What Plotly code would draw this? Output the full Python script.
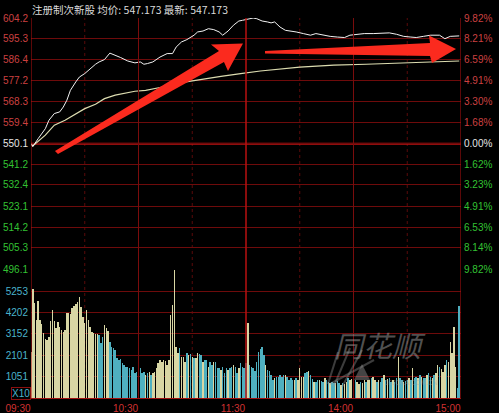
import plotly.graph_objects as go

# ------------------------------------------------------------------ data
header_text = "注册制次新股 均价: 547.173 最新: 547.173"
prev_close = 550.1
price_ticks = [604.2, 595.3, 586.4, 577.2, 568.3, 559.4, 550.1,
               541.2, 532.4, 523.1, 514.2, 505.3, 496.1]
pct_ticks = ["9.82%", "8.21%", "6.59%", "4.91%", "3.30%", "1.68%", "0.00%",
             "1.62%", "3.23%", "4.91%", "6.53%", "8.14%", "9.82%"]
vol_ticks = [5253, 4202, 3152, 2101, 1051]
time_labels = ["09:30", "10:30", "11:30", "14:00", "15:00"]
time_pos = [0, 60, 120, 180, 240]          # minutes since open
half_hour_pos = [30, 90, 150, 210]

# price (white) line: minute -> price
price_min = [0, 1, 4, 8, 10, 13, 16, 18, 20, 22, 25, 27, 30, 33, 36, 38, 41, 44,
             47, 50, 54, 58, 61, 63, 65, 68, 72, 76, 79, 81, 84, 87, 91, 93, 96,
             99, 102, 105, 107, 110, 113, 116, 118, 120, 122, 124, 126, 129, 132,
             134, 136, 139, 142, 145, 148, 152, 156, 159, 163, 167, 171, 175, 178,
             182, 186, 191, 197, 200, 204, 208, 212, 215, 219, 223, 228, 231, 234, 239]
price_val = [550.1, 548.9, 552.3, 556.6, 560.2, 563.1, 563.8, 565.9, 568.8, 573.1,
             576.7, 578.8, 580.3, 582.4, 584.3, 585.3, 586.3, 589.1, 588.2, 587.2,
             585.7, 584.9, 585.3, 584.3, 584.6, 585.3, 587.4, 588.9, 588.9, 591.7,
             593.9, 594.9, 596.8, 598.2, 598.6, 599.6, 599.2, 598.2, 596.8, 598.6,
             601.1, 602.9, 603.2, 603.5, 604.1, 604.2, 603.9, 602.9, 602.5, 602.1,
             602.5, 600.3, 598.9, 598.6, 598.2, 597.5, 596.8, 597.5, 596.8, 596.3,
             596.0, 595.8, 596.8, 597.2, 597.5, 597.5, 597.9, 597.8, 597.2, 596.3,
             596.0, 595.8, 596.3, 596.8, 596.8, 595.3, 596.3, 596.5]

# average price (pale yellow) line
avg_min = [0, 1, 8, 13, 19, 24, 30, 36, 41, 47, 52, 58, 64, 72, 83, 94, 106, 117,
           128, 150, 169, 187, 206, 224, 239]
avg_val = [550.1, 549.2, 553.8, 558.1, 560.2, 562.4, 565.2, 567.1, 569.5, 571.0,
           571.9, 572.7, 573.1, 574.3, 576.3, 577.7, 579.1, 580.3, 581.4, 583.1,
           583.9, 584.3, 584.8, 585.3, 585.7]

# per-minute volume (axis units, x10)
volume = [
    2270, 5350, 4660, 3830, 4780, 3850, 3630, 3190, 2900, 2850,
    3020, 3760, 4320, 3760, 3440, 3720, 3500, 3340, 3260, 3340,
    4190, 4160, 4110, 4430, 4530, 4600, 4700, 4980, 4480, 3990,
    3670, 4320, 3830, 3500, 3260, 3180, 3150, 3130, 3090, 2690,
    3010, 3580, 3420, 3300, 2760, 2520, 2440, 2360, 1960, 1870,
    1910, 1700, 1620, 1540, 1500, 1470, 1370, 1540, 1210, 1290,
    1700, 1450, 1210, 1290, 1130, 1250, 1290, 1130, 1210, 1290,
    1450, 1700, 1870, 1780, 1870, 1800, 1620, 1870, 4070, 4550,
    6280, 2520, 2190, 2470, 2030, 2030, 1780, 2190, 2110, 2140,
    2030, 1980, 1950, 2190, 2140, 2100, 1780, 1870, 1870, 1540,
    1780, 1620, 1780, 1780, 1490, 1450, 1370, 1540, 1210, 1450,
    1370, 1450, 1540, 1620, 1540, 1210, 1450, 1700, 1500, 1450,
    1700, 3670, 1620, 1540, 1450, 1330, 1780, 2270, 2400, 2520,
    2110, 1620, 1370, 1330, 1130, 880, 970, 1050, 1050, 1130,
    1050, 1130, 1130, 1050, 880, 970, 900, 880, 970, 880,
    1450, 1050, 1050, 1210, 1290, 1330, 1130, 930, 800, 800,
    880, 880, 830, 800, 970, 880, 800, 720, 800, 760,
    720, 830, 720, 640, 720, 670, 800, 970, 880, 920,
    970, 880, 800, 670, 800, 720, 880, 800, 880, 900,
    970, 1050, 880, 800, 880, 800, 970, 1130, 880, 920,
    970, 800, 880, 800, 970, 2030, 970, 880, 800, 850,
    880, 970, 880, 1460, 970, 1050, 970, 1130, 1050, 1000,
    970, 1130, 1210, 1050, 970, 1130, 1210, 1620, 1540, 1400,
    1290, 1620, 1870, 1780, 2760, 2190, 3500, 1540, 480, 4530,
]
# U = up minute (yellow bar), D = down minute (cyan bar)
vol_dir = ("UUUUUUUUUU" "UUUUUUUUUU" "UUUUUUUUUU" "UUUUUUUUDD"
           "DUUUDDDDDD" "DDDDDDDDDD" "DDDDUDUDUU" "UUUUUUUUUU"
           "UUUDUUUDUD" "UDUUDDUDDU" "DDUDDDUDDD" "UDDUDDUDDD"
           "DUDDDDDDDD" "DUDDDDUDDD" "DDUDDDDUDU" "UUUDDUDDUD"
           "DUDDUDDUDD" "UDDUDUUDUU" "UDUUDUUDUU" "DUUDUDDUDU"
           "DDUDDUDDUD" "DUDUDDUDUD" "DUDDUDUUDU" "UUDUUUUUDD")

# ------------------------------------------------------------------ layout constants
W, H = 499, 413
ML, MR, MT, MB = 31, 38, 18, 15
PW, PH = W - ML - MR, H - MT - MB
SPLIT = (H - MB - 269.3) / PH        # price panel bottom (paper)
VOL_TOP = 6320

RED_TXT = "#cc4040"
GRN_TXT = "#33c233"
WHT_TXT = "#e6e6e6"
CYAN_TXT = "#4ab4cc"
GRID = "#6e0b0b"
FONT = "Liberation Sans, Arial, sans-serif"
CJK = "Noto Sans CJK SC, Liberation Sans, sans-serif"


def px(x, y):
    return (x - ML) / PW, (H - MB - y) / PH


def path(points):
    s = ""
    for i, (x, y) in enumerate(points):
        a, b = px(x, y)
        s += ("M" if i == 0 else "L") + f"{a:.4f},{b:.4f} "
    return s + "Z"


def span(t, c):
    return f"<span style='color:{c}'>{t}</span>"


def side_color(i):
    return RED_TXT if i < 6 else (WHT_TXT if i == 6 else GRN_TXT)


left_text = [span(f"{v:.1f}", side_color(i)) for i, v in enumerate(price_ticks)]
right_text = [span(t, side_color(i)) for i, t in enumerate(pct_ticks)]
bar_colors = ["#d8d6a4" if d == "U" else "#4fb0c0" for d in vol_dir]

fig = go.Figure()
fig.add_trace(go.Bar(x=list(range(len(volume))), y=volume, marker_color=bar_colors,
                     marker_line_width=0, width=0.8, xaxis="x", yaxis="y2",
                     hoverinfo="skip"))
fig.add_trace(go.Scatter(x=avg_min, y=avg_val, mode="lines",
                         line=dict(color="#dcdcb0", width=1.2), xaxis="x", yaxis="y",
                         hoverinfo="skip"))
fig.add_trace(go.Scatter(x=price_min, y=price_val, mode="lines",
                         line=dict(color="#f2f2f2", width=1), xaxis="x", yaxis="y",
                         hoverinfo="skip"))
fig.add_trace(go.Scatter(x=[0], y=[prev_close], mode="markers", marker_opacity=0,
                         xaxis="x", yaxis="y3", hoverinfo="skip"))

shapes = []
# vertical time grid
for p in time_pos:
    bright = (p == 120) or p in (0, 240)
    shapes.append(dict(type="line", xref="x", yref="paper", x0=p, x1=p, y0=0, y1=1,
                       line=dict(color="#b81010" if bright else "#7a0c0c",
                                 width=1.5 if p == 120 else 1), layer="above"))
for p in half_hour_pos:
    shapes.append(dict(type="line", xref="x", yref="paper", x0=p, x1=p, y0=0, y1=1,
                       line=dict(color="#5a0a0a", width=1, dash="dot"), layer="below"))
# previous close line
shapes.append(dict(type="line", xref="paper", yref="y", x0=0, x1=1, y0=prev_close,
                   y1=prev_close, line=dict(color="#c01212", width=2), layer="below"))

# red arrows
shapes.append(dict(type="path", xref="paper", yref="paper", layer="above",
                   path=path([(55, 151), (219, 51), (211, 44.5), (243, 43.5),
                              (228, 71), (224, 62), (58, 154)]),
                   fillcolor="#fb2a1e", line=dict(width=0)))
shapes.append(dict(type="path", xref="paper", yref="paper", layer="above",
                   path=path([(265, 51), (430, 43), (429, 35.5), (456, 49),
                              (432, 63), (430, 56), (265, 53.5)]),
                   fillcolor="#fb2a1e", line=dict(width=0)))

# watermark logo (approximate)
shapes.append(dict(type="path", xref="paper", yref="paper", layer="above",
                   path=path([(354, 380), (362, 364), (370, 380)]),
                   fillcolor="rgba(150,150,150,0.45)", line=dict(width=0)))
for (a, b) in [((328, 384), (338, 352)), ((334, 386), (350, 348)),
               ((342, 387), (362, 350)), ((330, 384), (374, 360))]:
    x0, y0 = px(*a)
    x1, y1 = px(*b)
    shapes.append(dict(type="line", xref="paper", yref="paper", x0=x0, y0=y0, x1=x1,
                       y1=y1, line=dict(color="rgba(150,150,150,0.4)", width=2),
                       layer="above"))

annotations = []
hx, hy = px(30, 10)
annotations.append(dict(xref="paper", yref="paper", x=hx, y=hy, xanchor="left",
                        yanchor="middle", showarrow=False, text=header_text,
                        font=dict(family=CJK, size=10.5, color="#dadada")))
xx, xy = px(20.5, 393)
annotations.append(dict(xref="paper", yref="paper", x=xx, y=xy, xanchor="center",
                        yanchor="middle", showarrow=False, text="X10",
                        bordercolor="#8a1010", borderwidth=1, borderpad=0,
                        font=dict(family=FONT, size=10, color=CYAN_TXT)))
wx, wy = px(428, 367)
annotations.append(dict(xref="paper", yref="paper", x=wx, y=wy, showarrow=False,
                        text="同花顺", font=dict(family=CJK, size=29,
                                               color="rgba(160,160,160,0.5)",
                                               style="italic")))
ux, uy = px(440, 389)
annotations.append(dict(xref="paper", yref="paper", x=ux, y=uy, showarrow=False,
                        text="10JQKA.COM.CN",
                        font=dict(family=FONT, size=6.5, color="rgba(160,160,160,0.5)")))

fig.update_layout(
    width=W, height=H, margin=dict(l=ML, r=MR, t=MT, b=MB, pad=0, autoexpand=False),
    paper_bgcolor="#000000", plot_bgcolor="#000000", showlegend=False,
    bargap=0, hovermode=False,
    xaxis=dict(domain=[0, 1], range=[0, 240], anchor="y2", tickvals=time_pos,
               ticktext=time_labels, showgrid=False, zeroline=False, ticks="",
               showline=True, linecolor="#a01010", linewidth=1, automargin=False,
               ticklabelshift=-13, ticklabelstandoff=1,
               tickfont=dict(family=FONT, size=10, color="#d23232")),
    yaxis=dict(domain=[SPLIT, 1], range=[price_ticks[-1], price_ticks[0]],
               anchor="x", tickvals=price_ticks, ticktext=left_text, showgrid=True,
               gridcolor=GRID, gridwidth=1, zeroline=False, ticks="",
               showline=False, ticklabelstandoff=2, automargin=False,
               tickfont=dict(family=FONT, size=10)),
    yaxis2=dict(domain=[0, SPLIT], range=[0, VOL_TOP], anchor="x",
                tickvals=vol_ticks, ticktext=[str(v) for v in vol_ticks],
                showgrid=True, gridcolor=GRID, gridwidth=1, zeroline=False, ticks="",
                showline=False, ticklabelstandoff=2, automargin=False,
                tickfont=dict(family=FONT, size=10, color=CYAN_TXT)),
    yaxis3=dict(overlaying="y", side="right", anchor="x",
                range=[price_ticks[-1], price_ticks[0]], tickvals=price_ticks,
                ticktext=right_text, showgrid=False, zeroline=False, ticks="",
                showline=False, ticklabelstandoff=2, automargin=False,
                tickfont=dict(family=FONT, size=10)),
    shapes=shapes, annotations=annotations,
)

fig.write_html("out.html", config={"displayModeBar": False, "staticPlot": True},
               post_script="document.body.style.margin='0';"
                           "document.body.style.overflow='hidden';")
